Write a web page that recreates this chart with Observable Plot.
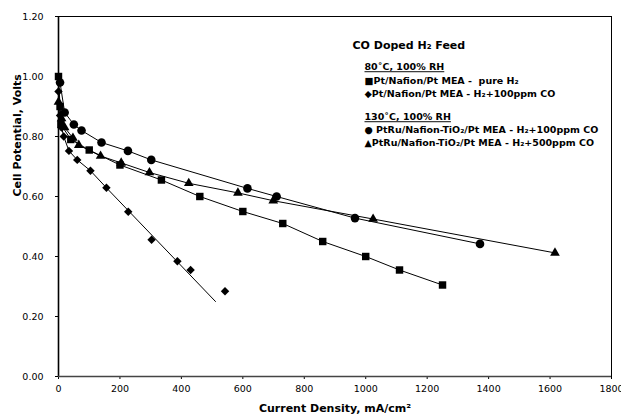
<!DOCTYPE html>
<html>
<head>
<meta charset="utf-8">
<script src="https://cdn.jsdelivr.net/npm/d3@7"></script>
<script src="https://cdn.jsdelivr.net/npm/@observablehq/plot@0.6"></script>
<style>
  html, body { margin: 0; padding: 0; background: white; }
</style>
</head>
<body>
<div id="chart"></div>
<script>
// ---- data ----
const xTicks = [0, 200, 400, 600, 800, 1000, 1200, 1400, 1600, 1800];
const yTicks = [0, 0.2, 0.4, 0.6, 0.8, 1.0, 1.2];

// Pt/Nafion/Pt MEA - pure H2 (squares)
const pureX = [0, 5, 8, 40, 100, 200, 335, 460, 600, 730, 860, 1000, 1110, 1250];
const pureY = [1.00, 0.90, 0.84, 0.79, 0.755, 0.705, 0.655, 0.60, 0.55, 0.51, 0.45, 0.40, 0.355, 0.305];

// Pt/Nafion/Pt MEA - H2+100ppm CO (diamonds)
const co100X = [0, 5, 10, 17, 34, 61, 104, 156, 227, 303, 387, 430, 542];
const co100Y = [0.95, 0.87, 0.83, 0.80, 0.752, 0.722, 0.686, 0.629, 0.549, 0.456, 0.384, 0.355, 0.284];
// connecting / trend line drawn through the diamonds
const co100LineX = [0, 5, 10, 17, 34, 61, 104, 156, 511];
const co100LineY = [0.95, 0.87, 0.83, 0.80, 0.752, 0.722, 0.686, 0.629, 0.25];

// PtRu/Nafion-TiO2/Pt MEA - H2+100ppm CO (circles)
const ru100X = [5, 20, 50, 75, 140, 226, 302, 615, 710, 965, 1372];
const ru100Y = [0.98, 0.88, 0.84, 0.82, 0.78, 0.752, 0.722, 0.627, 0.60, 0.528, 0.442];

// PtRu/Nafion-TiO2/Pt MEA - H2+500ppm CO (triangles)
const ru500X = [0, 10, 20, 47, 66, 137, 204, 296, 424, 584, 699, 1024, 1616];
const ru500Y = [0.915, 0.86, 0.83, 0.795, 0.771, 0.735, 0.712, 0.68, 0.644, 0.612, 0.586, 0.525, 0.412];

const legendTitle = "CO Doped H₂ Feed";
const legendHead1 = "80˚C, 100% RH";
const legendLine1 = "■Pt/Nafion/Pt MEA -  pure H₂";
const legendLine2 = "◆Pt/Nafion/Pt MEA - H₂+100ppm CO";
const legendHead2 = "130˚C, 100% RH";
const legendLine3 = "● PtRu/Nafion-TiO₂/Pt MEA - H₂+100ppm CO";
const legendLine4 = "▲PtRu/Nafion-TiO₂/Pt MEA - H₂+500ppm CO";
const xLabel = "Current Density, mA/cm²";
const yLabel = "Cell Potential, Volts";

const zip = (xs, ys) => xs.map((x, i) => ({x, y: ys[i]}));
const pure = zip(pureX, pureY);
const co100 = zip(co100X, co100Y);
const co100Line = zip(co100LineX, co100LineY);
const ru100 = zip(ru100X, ru100Y);
const ru500 = zip(ru500X, ru500Y);

const legendText = (t, dx, dy, size) => Plot.text([t], {
  frameAnchor: "top-left", dx, dy, textAnchor: "start",
  fontWeight: "bold", fontSize: size, fill: "black"
});

const chart = Plot.plot({
  width: 621,
  height: 418,
  marginLeft: 58,
  marginRight: 10,
  marginTop: 16,
  marginBottom: 42,
  style: {fontFamily: "'DejaVu Sans', Verdana, sans-serif", fontSize: "9.5px", color: "black", background: "white"},
  x: {domain: [0, 1800]},
  y: {domain: [0, 1.2]},
  marks: [
    Plot.axisX({ticks: xTicks, tickSize: 3, tickPadding: 6, tickFormat: d => String(d), label: null}),
    Plot.axisY({ticks: yTicks, tickSize: 3, tickPadding: 12, tickFormat: d3.format(".2f"), label: null}),
    Plot.frame({stroke: "black", strokeWidth: 1}),
    Plot.ruleX([0], {stroke: "black", strokeWidth: 1.6}),
    Plot.ruleY([0], {stroke: "#444", strokeWidth: 1.4}),
    Plot.line(pure, {x: "x", y: "y", stroke: "black", strokeWidth: 1}),
    Plot.line(co100Line, {x: "x", y: "y", stroke: "black", strokeWidth: 1}),
    Plot.line(ru100, {x: "x", y: "y", stroke: "black", strokeWidth: 1}),
    Plot.line(ru500, {x: "x", y: "y", stroke: "black", strokeWidth: 1}),
    Plot.dot(pure, {x: "x", y: "y", symbol: "square", r: 4.2, fill: "black", stroke: "none"}),
    Plot.dot(co100, {x: "x", y: "y", symbol: "diamond2", r: 3.8, fill: "black", stroke: "none"}),
    Plot.dot(ru100, {x: "x", y: "y", symbol: "circle", r: 4.3, fill: "black", stroke: "none"}),
    Plot.dot(ru500, {x: "x", y: "y", symbol: "triangle", r: 3.6, fill: "black", stroke: "none"}),
    legendText(legendTitle, 294, 25, 11),
    legendText(legendHead1, 306, 47, 9.5),
    legendText(legendLine1, 306, 61, 9.5),
    legendText(legendLine2, 306, 74, 9.5),
    legendText(legendHead2, 306, 97, 9.5),
    legendText(legendLine3, 306, 110, 9.5),
    legendText(legendLine4, 306, 123, 9.5),
    Plot.text([xLabel], {frameAnchor: "bottom", dy: 35, fontWeight: "bold", fontSize: 11, fill: "black"}),
    Plot.text([yLabel], {frameAnchor: "left", dx: -41, rotate: -90, fontWeight: "bold", fontSize: 11, fill: "black"})
  ]
});

d3.select(chart).selectAll("text")
  .filter(function() { const t = this.textContent; return t === legendHead1 || t === legendHead2; })
  .style("text-decoration", "underline");

document.getElementById("chart").appendChild(chart);
</script>
</body>
</html>
